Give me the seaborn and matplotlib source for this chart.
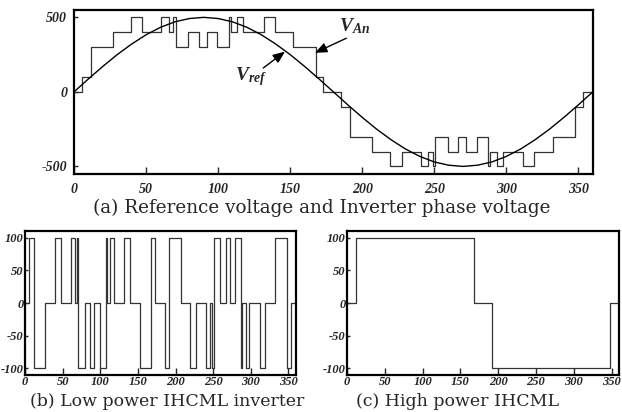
import numpy as np
import pandas as pd
import matplotlib
matplotlib.use("Agg")
import matplotlib.pyplot as plt
import seaborn as sns

# --- switching angles (deg) and output levels ---
# low power cell (b), +-100 levels
low_angles = [0, 5.6, 11.6, 26.8, 39.6, 47.4, 60.6, 65.8, 68.8, 70.8,
              79.2, 86.8, 92.0, 99.5, 107.3, 108.8, 113.3, 117.6, 131.8, 139.2,
              152.2, 167.6, 173.0, 185.6, 191.6, 206.8, 219.6, 227.4, 240.6, 245.8,
              248.8, 250.8, 259.2, 266.8, 272.0, 279.5, 287.3, 288.8, 293.3, 297.6,
              311.8, 319.2, 332.2, 347.6, 353.0]
low_levels = [0, 100, -100, 0, 100, 0, 100, 0, 100, -100,
              0, -100, 0, -100, 100, 0, 100, 0, 100, 0,
              -100, 100, 0, -100, 100, 0, -100, 0, -100, 0,
              -100, 100, 0, 100, 0, 100, -100, 0, -100, 0,
              -100, 0, 100, -100, 0]

# high power cell (c), normalised to +-100
high_angles = [0, 11.6, 167.6, 191.6, 347.6]
high_levels = [0, 100, 0, -100, 0]
high_gain = 4  # high cell carries 4x the low cell voltage in (a)

# reference voltage, read every 10 deg
ref_angles = list(range(0, 361, 10))
ref_values = [0, 87, 171, 250, 321, 383, 433, 470, 492, 500,
              492, 470, 433, 383, 321, 250, 171, 87, 0,
              -87, -171, -250, -321, -383, -433, -470, -492, -500,
              -492, -470, -433, -383, -321, -250, -171, -87, 0]


def step_frame(angles, levels):
    x = list(angles) + [360]
    y = list(levels) + [levels[-1]]
    return pd.DataFrame({"deg": x, "v": y})


def level_at(angles, levels, t):
    idx = np.searchsorted(angles, t, side="right") - 1
    return np.asarray(levels)[idx]


# phase voltage = high cell * gain + low cell
van_angles = sorted(set(low_angles) | set(high_angles))
van_levels = [high_gain * level_at(high_angles, high_levels, a) + level_at(low_angles, low_levels, a)
              for a in van_angles]

df_low = step_frame(low_angles, low_levels)
df_high = step_frame(high_angles, high_levels)
df_van = step_frame(van_angles, van_levels)
df_ref = pd.DataFrame({"deg": ref_angles, "v": ref_values})

sns.set_theme(style="white")
plt.rcParams["font.family"] = ["Liberation Serif", "DejaVu Serif"]
plt.rcParams["axes.unicode_minus"] = False
plt.rcParams["mathtext.fontset"] = "custom"
plt.rcParams["mathtext.it"] = "Liberation Serif:bold:italic"
plt.rcParams["mathtext.rm"] = "Liberation Serif:bold:italic"

fig = plt.figure(figsize=(6.22, 4.12), dpi=100)
ax_a = fig.add_axes([0.119, 0.578, 0.834, 0.398])
ax_b = fig.add_axes([0.0402, 0.0898, 0.4357, 0.3495])
ax_c = fig.add_axes([0.558, 0.0898, 0.4373, 0.3495])

tick_font = dict(family="Liberation Serif", weight="bold", style="italic")

# --- (a) ---
sns.lineplot(data=df_van, x="deg", y="v", ax=ax_a, drawstyle="steps-post",
             estimator=None, sort=False, color="#333333", lw=0.9)
sns.lineplot(data=df_ref, x="deg", y="v", ax=ax_a, estimator=None,
             sort=False, color="black", lw=1.0)
ax_a.set_xlim(0, 360)
ax_a.set_ylim(-550, 550)
ax_a.set_xticks(range(0, 360, 50))
ax_a.set_yticks([-500, 0, 500])
ax_a.tick_params(axis="x", direction="in", length=5, width=1, pad=6.5, bottom=True)
ax_a.tick_params(axis="y", direction="in", length=3, width=1, pad=5, left=True)
for lab in ax_a.get_xticklabels() + ax_a.get_yticklabels():
    lab.set(fontsize=10, **tick_font)

arrow = dict(arrowstyle="-|>,head_length=0.6,head_width=0.25", color="black",
             lw=1.0, mutation_scale=12, shrinkA=0, shrinkB=0)
ax_a.annotate("", xy=(167.2, 262), xytext=(189, 360), arrowprops=arrow)
ax_a.text(195, 440, r"$V_{An}$", fontsize=14, ha="center", va="center")
ax_a.annotate("", xy=(146.4, 270), xytext=(131.3, 160), arrowprops=arrow)
ax_a.text(123, 100, r"$V_{ref}$", fontsize=14, ha="center", va="center")

# --- (b) and (c) ---
for ax, df in [(ax_b, df_low), (ax_c, df_high)]:
    sns.lineplot(data=df, x="deg", y="v", ax=ax, drawstyle="steps-post",
                 estimator=None, sort=False, color="#333333", lw=0.9)
    ax.set_xlim(0, 360)
    ax.set_ylim(-110, 110)
    ax.set_xticks(range(0, 360, 50))
    ax.set_yticks([-100, -50, 0, 50, 100])
    ax.tick_params(axis="x", direction="in", length=5, width=1, pad=1, bottom=True)
    ax.tick_params(axis="y", direction="in", length=2, width=1, pad=1, left=True)
    for lab in ax.get_xticklabels() + ax.get_yticklabels():
        lab.set(fontsize=9, **tick_font)

for ax in (ax_a, ax_b, ax_c):
    ax.set_xlabel("")
    ax.set_ylabel("")
    for sp in ax.spines.values():
        sp.set_linewidth(1.6)
        sp.set_color("black")

cap_font = dict(family="DejaVu Serif", ha="center", va="baseline")
fig.text(0.518, 0.484, "(a) Reference voltage and Inverter phase voltage",
         fontsize=13.2, **cap_font)
fig.text(0.268, 0.014, "(b) Low power IHCML inverter", fontsize=12.5, **cap_font)
fig.text(0.735, 0.014, "(c) High power IHCML", fontsize=12.5, **cap_font)

fig.savefig("out.png", dpi=100)
